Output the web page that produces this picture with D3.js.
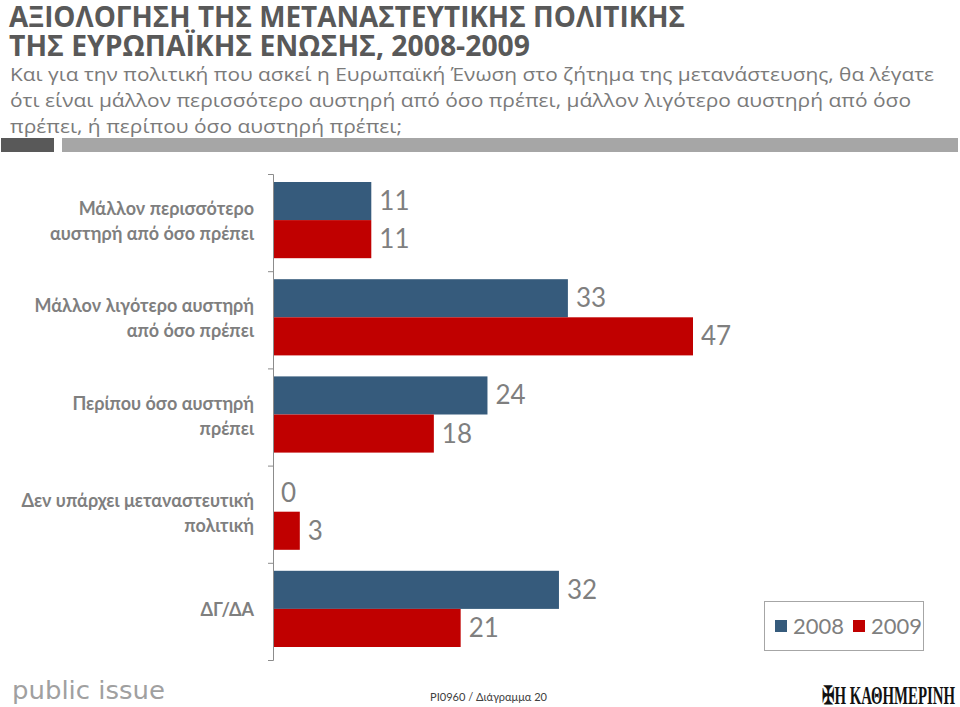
<!DOCTYPE html>
<html><head><meta charset="utf-8">
<script src="https://cdn.jsdelivr.net/npm/d3@7"></script>
<style>body{margin:0;background:#fff}svg{display:block}</style>
</head><body>
<script>
const categories = [
  ["Μάλλον περισσότερο", "αυστηρή από όσο πρέπει"],
  ["Μάλλον λιγότερο αυστηρή", "από όσο πρέπει"],
  ["Περίπου όσο αυστηρή", "πρέπει"],
  ["Δεν υπάρχει μεταναστευτική", "πολιτική"],
  ["ΔΓ/ΔΑ"]
];
const series = ["2008", "2009"];
const values2008 = [11, 33, 24, 0, 32];
const values2009 = [11, 47, 18, 3, 21];
const colors = ["#365b7c", "#c00000"];
const titleLines = ["ΑΞΙΟΛΟΓΗΣΗ ΤΗΣ ΜΕΤΑΝΑΣΤΕΥΤΙΚΗΣ ΠΟΛΙΤΙΚΗΣ", "ΤΗΣ ΕΥΡΩΠΑΪΚΗΣ ΕΝΩΣΗΣ, 2008-2009"];
const subtitleLines = [
  "Και για την πολιτική που ασκεί η Ευρωπαϊκή Ένωση στο ζήτημα της μετανάστευσης, θα λέγατε",
  "ότι είναι μάλλον περισσότερο αυστηρή από όσο πρέπει, μάλλον λιγότερο αυστηρή από όσο",
  "πρέπει, ή περίπου όσο αυστηρή πρέπει;"
];

const W = 960, H = 707;
const svg = d3.select("body").append("svg").attr("width", W).attr("height", H);

// Title
const tl = svg.append("g").attr("font-family", "'Open Sans', sans-serif");
tl.selectAll("text.t").data(titleLines).join("text").attr("class","t")
  .attr("x", 9).attr("y", (d,i)=>27 + i*29)
  .attr("font-size", 29).attr("font-weight", 700).attr("fill", "#595959")
  .attr("textLength", (d,i)=> i===0 ? 676 : 521).attr("lengthAdjust","spacingAndGlyphs")
  .text(d=>d);
tl.selectAll("text.s").data(subtitleLines).join("text").attr("class","s")
  .attr("x", 10).attr("y", (d,i)=>81 + i*26)
  .attr("font-size", 19).attr("fill", "#7a7a7a")
  .attr("textLength", (d,i)=> [924, 901, 392][i]).attr("lengthAdjust","spacingAndGlyphs")
  .text(d=>d);

// Separator
svg.append("rect").attr("x",1).attr("y",138).attr("width",53).attr("height",14).attr("fill","#595959");
svg.append("rect").attr("x",62).attr("y",138).attr("width",896).attr("height",14).attr("fill","#a6a6a6");

// Chart
const x0 = 273;
const x = d3.scaleLinear().domain([0, 47]).range([x0, x0 + 420]);
const y = d3.scaleBand().domain(d3.range(categories.length)).range([174, 660]).paddingInner(0).paddingOuter(0);
const sub = d3.scaleBand().domain(series).range([8, y.bandwidth() - 13]);

const data = categories.map((c,i)=>({c, vals:[values2008[i], values2009[i]]}));
const g = svg.append("g");
const grp = g.selectAll("g.grp").data(data).join("g").attr("class","grp")
  .attr("transform",(d,i)=>`translate(0,${y(i)})`);
grp.selectAll("rect").data(d=>d.vals.map((v,j)=>({v, s:series[j], j}))).join("rect")
  .attr("x", x(0)).attr("y", d=>sub(d.s)).attr("width", d=>x(d.v)-x(0))
  .attr("height", sub.bandwidth()).attr("fill", d=>colors[d.j]);
grp.selectAll("text.v").data(d=>d.vals.map((v,j)=>({v, s:series[j], j}))).join("text").attr("class","v")
  .attr("x", d=>x(d.v)+8).attr("y", d=>sub(d.s)+sub.bandwidth()/2+9)
  .attr("font-family","Lato, 'Open Sans', sans-serif").attr("font-size", 26).attr("fill","#7f7f7f")
  .text(d=>d.v);

// Axis
const axis = d3.axisLeft(d3.scaleLinear().domain([0,5]).range([174,660])).ticks(5).tickSize(5).tickFormat("");
const ax = svg.append("g").attr("transform",`translate(${x0},0)`).call(axis);
ax.selectAll("path,line").attr("stroke","#8c8c8c").attr("stroke-width",1);

// Category labels
const cl = svg.append("g").attr("font-family","Lato, 'Open Sans', sans-serif").attr("font-weight",700)
  .attr("font-size",18).attr("fill","#7f7f7f").attr("text-anchor","end");
data.forEach((d,i)=>{
  const cy = y(i) + y.bandwidth()/2 - 1;
  const n = d.c.length;
  d.c.forEach((line,k)=>{
    cl.append("text").attr("x",254).attr("y", cy + (k - (n-1)/2)*25 + 6).text(line);
  });
});

// Legend
const lg = svg.append("g");
lg.append("rect").attr("x",764.5).attr("y",601.5).attr("width",159).attr("height",49)
  .attr("fill","#fff").attr("stroke","#a6a6a6").attr("stroke-width",1);
series.forEach((s,i)=>{
  const lx = 775 + i*78;
  lg.append("rect").attr("x",lx).attr("y",620).attr("width",12).attr("height",12).attr("fill",colors[i]);
  lg.append("text").attr("x",lx+18).attr("y",634).attr("font-family","Lato, 'Open Sans', sans-serif")
    .attr("font-size",22).attr("fill","#7f7f7f").text(s);
});

// Footer
svg.append("text").attr("x",12).attr("y",699).attr("font-family","'DejaVu Sans', sans-serif")
  .attr("font-size",25).attr("fill","#a0a0a0").attr("textLength",153).attr("lengthAdjust","spacingAndGlyphs")
  .text("public issue");
svg.append("text").attr("x",430).attr("y",701).attr("font-family","Lato, 'Open Sans', sans-serif")
  .attr("font-size",11).attr("fill","#404040").attr("textLength",117).attr("lengthAdjust","spacingAndGlyphs")
  .text("PI0960 / Διάγραμμα 20");
svg.append("text").attr("x",822).attr("y",704).attr("font-family","'Liberation Serif', serif")
  .attr("font-size",25).attr("font-weight",700).attr("fill","#111").attr("textLength",133).attr("lengthAdjust","spacingAndGlyphs")
  .text("✠Η ΚΑΘΗΜΕΡΙΝΗ");
</script>
</body></html>
